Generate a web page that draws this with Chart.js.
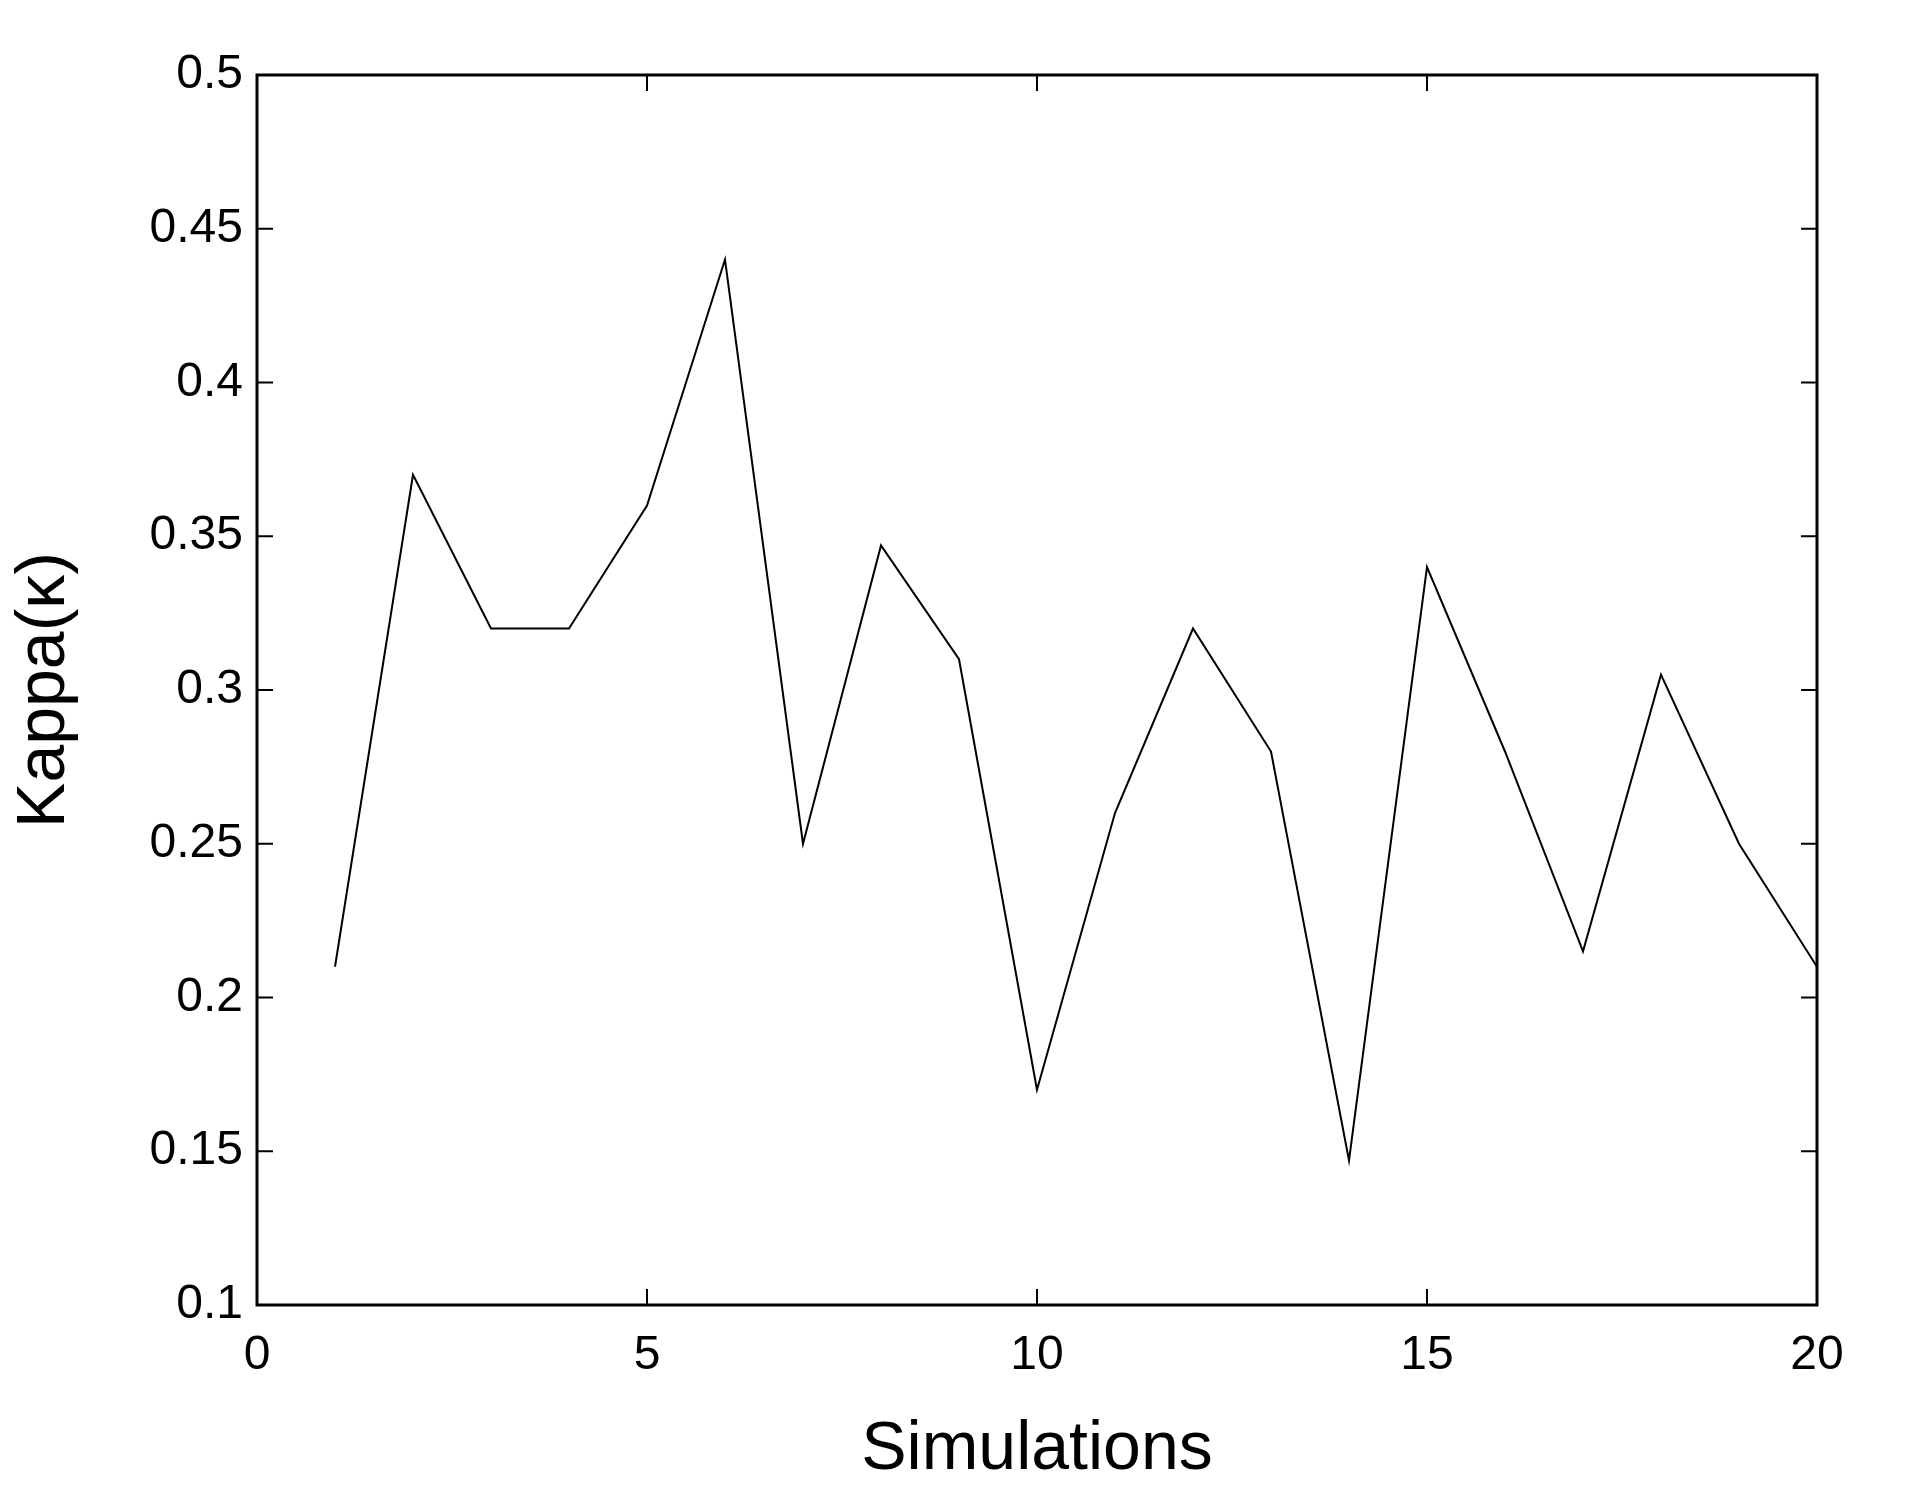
<!DOCTYPE html>
<html><head><meta charset="utf-8">
<script src="https://cdn.jsdelivr.net/npm/chart.js@4"></script>
<style>html,body{margin:0;padding:0;background:#fff}#w{width:1910px;height:1495px}</style>
</head><body><div id="w"><canvas id="c"></canvas></div>
<script>
const simulations = [1,2,3,4,5,6,7,8,9,10,11,12,13,14,15,16,17,18,19,20];
const kappa = [0.21,0.37,0.32,0.32,0.36,0.44,0.25,0.347,0.31,0.17,0.26,0.32,0.28,0.147,0.34,0.28,0.215,0.305,0.25,0.21];
const xTicks = [0,5,10,15,20];
const yTicks = [0.1,0.15,0.2,0.25,0.3,0.35,0.4,0.45,0.5];
const font = 'Liberation Sans, Arial, sans-serif';
const innerTicks = {
  id:'innerTicks',
  afterDraw(ch){
    const {ctx, chartArea:a, scales:{x,y}} = ch;
    ctx.save(); ctx.strokeStyle='#000'; ctx.lineWidth=2;
    ctx.beginPath();
    xTicks.forEach(v=>{const p=x.getPixelForValue(v); ctx.moveTo(p,a.bottom); ctx.lineTo(p,a.bottom-16); ctx.moveTo(p,a.top); ctx.lineTo(p,a.top+16);});
    yTicks.forEach(v=>{const p=y.getPixelForValue(v); ctx.moveTo(a.left,p); ctx.lineTo(a.left+16,p); ctx.moveTo(a.right,p); ctx.lineTo(a.right-16,p);});
    ctx.stroke();
    ctx.lineWidth=3; ctx.strokeRect(a.left,a.top,a.right-a.left,a.bottom-a.top);
    ctx.restore();
  }
};
new Chart(document.getElementById('c'),{
  type:'line',
  data:{datasets:[{data:simulations.map((s,i)=>({x:s,y:kappa[i]})),borderColor:'#000',borderWidth:2,pointRadius:0,tension:0,fill:false}]},
  options:{
    responsive:true,maintainAspectRatio:false,animation:false,
    layout:{padding:{top:75,right:93,left:0,bottom:0}},
    plugins:{legend:{display:false},tooltip:{enabled:false}},
    scales:{
      x:{type:'linear',min:0,max:20,
        afterBuildTicks:s=>{s.ticks=xTicks.map(v=>({value:v}));},
        afterFit:s=>{s.height=190;},
        grid:{display:false,drawTicks:false},border:{display:false},
        ticks:{color:'#000',padding:22,maxRotation:0,font:{family:font,size:48}},
        title:{display:true,text:'Simulations',color:'#000',font:{family:font,size:68},padding:{top:0}}},
      y:{type:'linear',min:0.1,max:0.5,
        afterBuildTicks:s=>{s.ticks=yTicks.map(v=>({value:v}));},
        afterFit:s=>{s.width=257;},
        grid:{display:false,drawTicks:false},border:{display:false},
        ticks:{color:'#000',padding:14,font:{family:font,size:48},callback:v=>String(+v.toFixed(2))},
        title:{display:true,text:'Kappa(κ)',color:'#000',font:{family:font,size:68},padding:{bottom:0}}}
    }
  },
  plugins:[innerTicks]
});
</script></body></html>
